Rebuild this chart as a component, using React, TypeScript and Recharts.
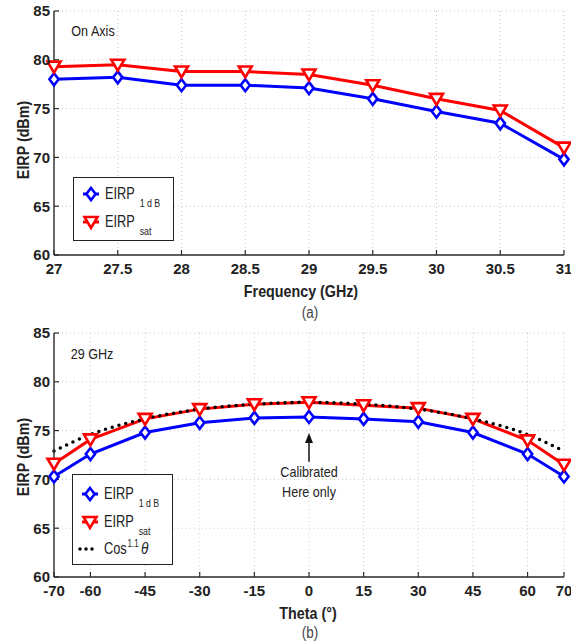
import React from 'react';
import { LineChart, Line, XAxis, YAxis, CartesianGrid, ReferenceLine } from 'recharts';

// (a) EIRP vs frequency, on axis
const freqGHz = [27, 27.5, 28, 28.5, 29, 29.5, 30, 30.5, 31];
const freqEirp1dB = [78.0, 78.2, 77.4, 77.4, 77.1, 76.0, 74.7, 73.5, 69.8];
const freqEirpSat = [79.3, 79.5, 78.8, 78.8, 78.5, 77.4, 76.0, 74.8, 71.0];

// (b) EIRP vs scan angle at 29 GHz
const thetaDeg = [-70, -60, -45, -30, -15, 0, 15, 30, 45, 60, 70];
const thetaEirp1dB = [70.3, 72.6, 74.8, 75.8, 76.3, 76.4, 76.2, 75.9, 74.8, 72.6, 70.3];
const thetaEirpSat = [71.6, 74.1, 76.2, 77.2, 77.7, 77.9, 77.6, 77.3, 76.2, 74.0, 71.5];
const thetaCos = [72.9, 74.6, 76.2, 77.2, 77.7, 77.9, 77.7, 77.2, 76.2, 74.6, 72.9];

const eirpTicks = [60, 65, 70, 75, 80, 85];

const freqData = freqGHz.map((f, i) => ({ x: f, p1dB: freqEirp1dB[i], sat: freqEirpSat[i] }));
const thetaData = thetaDeg.map((t, i) => ({ x: t, p1dB: thetaEirp1dB[i], sat: thetaEirpSat[i], cos: thetaCos[i] }));

const FONT = "'Liberation Sans', Arial, sans-serif";
const NARROW = 0.84;
const BLUE = '#0000ff';
const RED = '#ff0000';
const AXIS = '#2b2b2b';

const tickStyle = { fill: '#222', fontSize: 15, fontWeight: 700, fontFamily: FONT };

const Diamond = (props: any) => {
  const { cx, cy } = props;
  if (cx == null || cy == null) return null;
  return (
    <path
      d={`M${cx},${cy - 6} L${cx + 4.6},${cy} L${cx},${cy + 6} L${cx - 4.6},${cy} Z`}
      fill="#fff"
      stroke={BLUE}
      strokeWidth={2.6}
    />
  );
};

const TriDown = (props: any) => {
  const { cx, cy } = props;
  if (cx == null || cy == null) return null;
  return (
    <path
      d={`M${cx - 6.5},${cy - 5} L${cx + 6.5},${cy - 5} L${cx},${cy + 6} Z`}
      fill="#fff"
      stroke={RED}
      strokeWidth={2.6}
    />
  );
};

const Arrow = (props: any) => {
  const { x1, y1, x2, y2 } = props;
  if (x1 == null) return null;
  const top = Math.min(y1, y2);
  const bottom = Math.max(y1, y2);
  return (
    <g>
      <line x1={x1} y1={bottom} x2={x1} y2={top + 8} stroke="#111" strokeWidth={1.5} />
      <path d={`M${x1},${top} L${x1 + 4},${top + 10} L${x1 - 4},${top + 10} Z`} fill="#111" />
    </g>
  );
};

function Txt({ x, y, children, style, rotate = 0 }: { x: number; y: number; children: React.ReactNode; style?: React.CSSProperties; rotate?: number }) {
  return (
    <div
      style={{
        position: 'absolute',
        left: x,
        top: y,
        transform: `translate(-50%, -50%) rotate(${rotate}deg) scaleX(${NARROW})`,
        whiteSpace: 'nowrap',
        fontFamily: FONT,
        color: '#222',
        lineHeight: 1,
        ...style,
      }}
    >
      {children}
    </div>
  );
}

function LegendMarker({ kind }: { kind: 'diamond' | 'tri' | 'dots' }) {
  return (
    <svg width={30} height={20} style={{ display: 'block' }}>
      {kind === 'dots' ? (
        <line x1={7} y1={10} x2={24} y2={10} stroke="#000" strokeWidth={3.5} strokeDasharray="0 6" strokeLinecap="round" />
      ) : (
        <line x1={9} y1={10} x2={25} y2={10} stroke={kind === 'diamond' ? BLUE : RED} strokeWidth={3} />
      )}
      {kind === 'diamond' && <Diamond cx={17} cy={10} />}
      {kind === 'tri' && <TriDown cx={17} cy={10} />}
    </svg>
  );
}

function LegendRow({ top, kind, children }: { top: number; kind: 'diamond' | 'tri' | 'dots'; children: React.ReactNode }) {
  return (
    <div style={{ position: 'absolute', left: 0, top: top - 10, height: 20, display: 'flex', alignItems: 'center' }}>
      <LegendMarker kind={kind} />
      <div
        style={{
          marginLeft: 1,
          fontFamily: FONT,
          fontSize: 16,
          color: '#222',
          whiteSpace: 'nowrap',
          transform: 'scaleX(0.8)',
          transformOrigin: 'left center',
        }}
      >
        {children}
      </div>
    </div>
  );
}

const sub = (s: string) => (
  <span style={{ fontSize: 11, position: 'relative', top: 8, marginLeft: 6 }}>{s}</span>
);

export default function App() {
  const commonX = {
    type: 'number' as const,
    dataKey: 'x',
    axisLine: { stroke: AXIS, strokeWidth: 1.4 },
    tickLine: { stroke: AXIS, strokeWidth: 1.2 },
    tickSize: -5,
    interval: 0 as const,
  };
  const commonY = {
    type: 'number' as const,
    domain: [60, 85] as [number, number],
    ticks: eirpTicks,
    axisLine: { stroke: AXIS, strokeWidth: 1.4 },
    tickLine: { stroke: AXIS, strokeWidth: 1.2 },
    tickSize: -5,
    interval: 0 as const,
  };
  const margin = { top: 11, right: 7, left: 0, bottom: 0 };

  return (
    <div style={{ position: 'absolute', left: 0, top: 0, width: 571, height: 644, background: '#fff', overflow: 'hidden' }}>
      {/* panel (a) */}
      <div style={{ position: 'relative', width: 571, height: 322 }}>
        <LineChart width={571} height={322} data={freqData} margin={margin}>
          <CartesianGrid stroke="#c8c8c8" strokeDasharray="1 3" />
          <XAxis {...commonX} domain={[27, 31]} ticks={freqGHz} height={67} tickMargin={13} tick={tickStyle} />
          <XAxis {...commonX} xAxisId="top" orientation="top" domain={[27, 31]} ticks={freqGHz} height={0} tick={false} />
          <YAxis {...commonY} width={54} tickMargin={9} tick={tickStyle} />
          <YAxis {...commonY} yAxisId="right" orientation="right" width={0} tick={false} />
          <Line dataKey="p1dB" stroke={BLUE} strokeWidth={3} dot={<Diamond />} isAnimationActive={false} />
          <Line dataKey="sat" stroke={RED} strokeWidth={3} dot={<TriDown />} isAnimationActive={false} />
        </LineChart>
        <Txt x={93} y={30} style={{ fontSize: 15 }}>On Axis</Txt>
        <Txt x={23} y={140} rotate={-90} style={{ fontSize: 17, fontWeight: 700 }}>EIRP (dBm)</Txt>
        <Txt x={301} y={291} style={{ fontSize: 17, fontWeight: 700 }}>Frequency (GHz)</Txt>
        <Txt x={310} y={313} style={{ fontSize: 16, color: '#444' }}>(a)</Txt>
        <div style={{ position: 'absolute', left: 73, top: 177, width: 101, height: 64, border: '1.5px solid #222', background: '#fff', boxSizing: 'border-box' }}>
          <LegendRow top={16} kind="diamond">EIRP{sub('1 d B')}</LegendRow>
          <LegendRow top={44} kind="tri">EIRP{sub('sat')}</LegendRow>
        </div>
      </div>

      {/* panel (b) */}
      <div style={{ position: 'relative', width: 571, height: 322 }}>
        <LineChart width={571} height={322} data={thetaData} margin={margin}>
          <CartesianGrid stroke="#c8c8c8" strokeDasharray="1 3" />
          <XAxis {...commonX} domain={[-70, 70]} ticks={thetaDeg} height={67} tickMargin={13} tick={tickStyle} />
          <XAxis {...commonX} xAxisId="top" orientation="top" domain={[-70, 70]} ticks={thetaDeg} height={0} tick={false} />
          <YAxis {...commonY} width={54} tickMargin={9} tick={tickStyle} />
          <YAxis {...commonY} yAxisId="right" orientation="right" width={0} tick={false} />
          <ReferenceLine segment={[{ x: 0, y: 74.75 }, { x: 0, y: 71.8 }]} shape={<Arrow />} />
          <Line dataKey="p1dB" stroke={BLUE} strokeWidth={3} dot={<Diamond />} isAnimationActive={false} />
          <Line dataKey="sat" stroke={RED} strokeWidth={3} dot={<TriDown />} isAnimationActive={false} />
          <Line
            dataKey="cos"
            type="monotone"
            stroke="#000"
            strokeWidth={3.5}
            strokeDasharray="0 7"
            strokeLinecap="round"
            dot={false}
            isAnimationActive={false}
          />
        </LineChart>
        <Txt x={92} y={31} style={{ fontSize: 15 }}>29 GHz</Txt>
        <Txt x={309} y={149} style={{ fontSize: 15 }}>Calibrated</Txt>
        <Txt x={309} y={169} style={{ fontSize: 15 }}>Here only</Txt>
        <Txt x={23} y={135} rotate={-90} style={{ fontSize: 17, fontWeight: 700 }}>EIRP (dBm)</Txt>
        <Txt x={308} y={291} style={{ fontSize: 17, fontWeight: 700 }}>Theta (°)</Txt>
        <Txt x={310} y={311} style={{ fontSize: 16, color: '#444' }}>(b)</Txt>
        <div style={{ position: 'absolute', left: 72, top: 152, width: 101, height: 91, border: '1.5px solid #222', background: '#fff', boxSizing: 'border-box' }}>
          <LegendRow top={19} kind="diamond">EIRP{sub('1 d B')}</LegendRow>
          <LegendRow top={47} kind="tri">EIRP{sub('sat')}</LegendRow>
          <LegendRow top={74} kind="dots">
            Cos<span style={{ fontSize: 10, position: 'relative', top: -7, marginLeft: 1, marginRight: 3 }}>1.1</span>
            <span style={{ fontStyle: 'italic', fontSize: 17 }}>θ</span>
          </LegendRow>
        </div>
      </div>
    </div>
  );
}
